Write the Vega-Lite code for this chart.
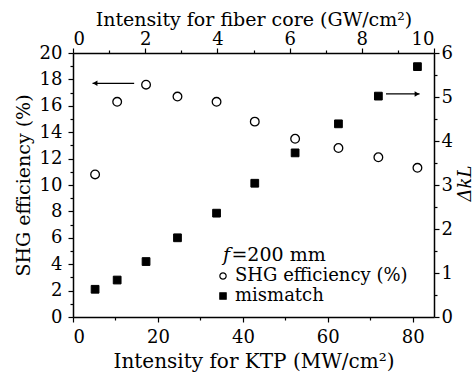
{
  "$schema": "https://vega.github.io/schema/vega-lite/v6.json",
  "width": 361,
  "height": 264,
  "autosize": "none",
  "padding": {"left": 73, "top": 53, "right": 40, "bottom": 58},
  "background": "white",
  "config": {
    "font": "DejaVu Serif",
    "view": {"stroke": null},
    "axis": {
      "domainColor": "black",
      "domainWidth": 1.5,
      "tickColor": "black",
      "tickWidth": 1.2,
      "labelColor": "black",
      "titleColor": "black",
      "labelFont": "DejaVu Serif",
      "titleFont": "DejaVu Serif",
      "labelFontSize": 18,
      "titleFontSize": 20,
      "titleFontWeight": "normal",
      "grid": false,
      "labelPadding": 4
    },
    "legend": {
      "labelFont": "DejaVu Serif",
      "labelFontSize": 18,
      "labelColor": "black",
      "labelLimit": 0,
      "symbolStrokeColor": "black",
      "symbolStrokeWidth": 1.2
    }
  },
  "datasets": {
    "pts": [
      {"ktp": 5.2, "shg": 10.8, "dkl": 0.63},
      {"ktp": 10.4, "shg": 16.3, "dkl": 0.84},
      {"ktp": 17.2, "shg": 17.6, "dkl": 1.26},
      {"ktp": 24.6, "shg": 16.7, "dkl": 1.8},
      {"ktp": 33.8, "shg": 16.3, "dkl": 2.36},
      {"ktp": 42.8, "shg": 14.8, "dkl": 3.04},
      {"ktp": 52.3, "shg": 13.5, "dkl": 3.73},
      {"ktp": 62.5, "shg": 12.8, "dkl": 4.39},
      {"ktp": 71.9, "shg": 12.1, "dkl": 5.02},
      {"ktp": 81.1, "shg": 11.3, "dkl": 5.69}
    ],
    "arrows": [
      {"from": 14.4, "to": 4.6, "y": 17.7, "head": 5.2, "dir": "left"},
      {"from": 73.7, "to": 81.6, "y": 16.9, "head": 81.0, "dir": "right"}
    ]
  },
  "layer": [
    {
      "data": {"name": "pts"},
      "mark": {"type": "point", "strokeWidth": 1.3, "size": 75, "opacity": 1},
      "encoding": {
        "x": {"field": "ktp", "type": "quantitative",
          "scale": {"domain": [0, 85], "nice": false},
          "axis": {"orient": "bottom", "title": "Intensity for KTP (MW/cm²)",
            "values": [0, 10, 20, 30, 40, 50, 60, 70, 80],
            "labelExpr": "datum.value % 20 === 0 ? datum.label : ''",
            "tickSize": {"condition": {"test": "datum.value % 20 === 0", "value": 5}, "value": 3},
            "labelPadding": 6,
            "titlePadding": 5}},
        "y": {"field": "shg", "type": "quantitative",
          "scale": {"domain": [0, 20], "nice": false},
          "axis": {"orient": "left", "title": "SHG efficiency (%)",
            "values": [0,1,2,3,4,5,6,7,8,9,10,11,12,13,14,15,16,17,18,19,20],
            "labelExpr": "datum.value % 2 === 0 ? datum.label : ''",
            "tickSize": {"condition": {"test": "datum.value % 2 === 0", "value": 5}, "value": 3},
            "labelPadding": 6,
            "titleFontSize": 19,
            "titlePadding": 6}},
        "shape": {"datum": "SHG efficiency (%)", "type": "nominal",
          "scale": {"domain": ["SHG efficiency (%)", "mismatch"], "range": ["circle", "square"]},
          "legend": {"title": null, "orient": "none", "legendX": 141, "legendY": 214, "padding": 0,
            "symbolSize": 40, "rowPadding": 2, "labelOffset": 3, "labelLimit": 0}},
        "fill": {"datum": "SHG efficiency (%)", "type": "nominal",
          "scale": {"domain": ["SHG efficiency (%)", "mismatch"], "range": ["white", "black"]},
          "legend": {"title": null, "orient": "none", "legendX": 141, "legendY": 214, "padding": 0,
            "symbolSize": 40, "rowPadding": 2, "labelOffset": 3, "labelLimit": 0}},
        "stroke": {"datum": "SHG efficiency (%)", "type": "nominal",
          "scale": {"domain": ["SHG efficiency (%)", "mismatch"], "range": ["black", "black"]},
          "legend": {"title": null, "orient": "none", "legendX": 141, "legendY": 214, "padding": 0,
            "symbolSize": 40, "rowPadding": 2, "labelOffset": 3, "labelLimit": 0}}
      }
    },
    {
      "data": {"name": "pts"},
      "mark": {"type": "point", "strokeWidth": 1, "size": 60, "opacity": 1},
      "encoding": {
        "x": {"field": "ktp", "type": "quantitative",
          "scale": {"domain": [0, 85], "nice": false}, "axis": null},
        "y": {"field": "dkl", "type": "quantitative",
          "scale": {"domain": [0, 6], "nice": false},
          "axis": {"orient": "right", "title": "ΔkL", "titleFontStyle": "italic", "titleAngle": 270,
            "titleFontSize": 18,
            "titleBaseline": "middle", "titleAlign": "center", "titleX": 31, "titleY": 130,
            "values": [0,0.5,1,1.5,2,2.5,3,3.5,4,4.5,5,5.5,6],
            "labelExpr": "datum.value % 1 === 0 ? format(datum.value, 'd') : ''",
            "tickSize": {"condition": {"test": "datum.value % 1 === 0", "value": 5}, "value": 3},
            "labelPadding": 2}},
        "shape": {"datum": "mismatch", "type": "nominal"},
        "fill": {"datum": "mismatch", "type": "nominal"},
        "stroke": {"datum": "mismatch", "type": "nominal"}
      }
    },
    {
      "data": {"name": "arrows"},
      "mark": {"type": "rule", "color": "black", "strokeWidth": 1.2},
      "encoding": {
        "x": {"field": "from", "type": "quantitative", "scale": {"domain": [0, 85], "nice": false}, "axis": null},
        "x2": {"field": "to"},
        "y": {"field": "y", "type": "quantitative", "scale": {"domain": [0, 20], "nice": false}, "axis": null}
      }
    },
    {
      "data": {"name": "arrows"},
      "transform": [{"filter": "datum.dir === 'left'"}],
      "mark": {"type": "point", "shape": "triangle-left", "filled": true, "color": "black", "size": 30, "opacity": 1},
      "encoding": {
        "x": {"field": "head", "type": "quantitative", "scale": {"domain": [0, 85], "nice": false}, "axis": null},
        "y": {"field": "y", "type": "quantitative", "scale": {"domain": [0, 20], "nice": false}, "axis": null}
      }
    },
    {
      "data": {"name": "arrows"},
      "transform": [{"filter": "datum.dir === 'right'"}],
      "mark": {"type": "point", "shape": "triangle-right", "filled": true, "color": "black", "size": 30, "opacity": 1},
      "encoding": {
        "x": {"field": "head", "type": "quantitative", "scale": {"domain": [0, 85], "nice": false}, "axis": null},
        "y": {"field": "y", "type": "quantitative", "scale": {"domain": [0, 20], "nice": false}, "axis": null}
      }
    },
    {
      "data": {"values": [{"t": "f", "x": 35.3, "y": 4.7}]},
      "mark": {"type": "text", "font": "DejaVu Serif", "fontStyle": "italic", "fontSize": 19, "align": "left", "baseline": "middle", "color": "black"},
      "encoding": {
        "x": {"field": "x", "type": "quantitative", "scale": {"domain": [0, 85], "nice": false}, "axis": null},
        "y": {"field": "y", "type": "quantitative", "scale": {"domain": [0, 20], "nice": false}, "axis": null},
        "text": {"field": "t"}
      }
    },
    {
      "data": {"values": [{"t": "=200 mm", "x": 37.3, "y": 4.7}]},
      "mark": {"type": "text", "font": "DejaVu Serif", "fontSize": 19, "align": "left", "baseline": "middle", "color": "black"},
      "encoding": {
        "x": {"field": "x", "type": "quantitative", "scale": {"domain": [0, 85], "nice": false}, "axis": null},
        "y": {"field": "y", "type": "quantitative", "scale": {"domain": [0, 20], "nice": false}, "axis": null},
        "text": {"field": "t"}
      }
    },
    {
      "data": {"values": [{"fc": 0}, {"fc": 10}]},
      "mark": {"type": "rule", "opacity": 0},
      "encoding": {
        "x": {"field": "fc", "type": "quantitative",
          "scale": {"domain": [0, 10], "nice": false},
          "axis": {"orient": "top", "title": "Intensity for fiber core (GW/cm²)",
            "titleFontSize": 19,
            "titleBaseline": "bottom", "titleY": -24,
            "values": [0,1,2,3,4,5,6,7,8,9,10],
            "labelExpr": "datum.value % 2 === 0 ? datum.label : ''",
            "tickSize": {"condition": {"test": "datum.value % 2 === 0", "value": 5}, "value": 3},
            "labelPadding": 0}}
      }
    }
  ],
  "resolve": {"scale": {"x": "independent", "y": "independent"}}
}
